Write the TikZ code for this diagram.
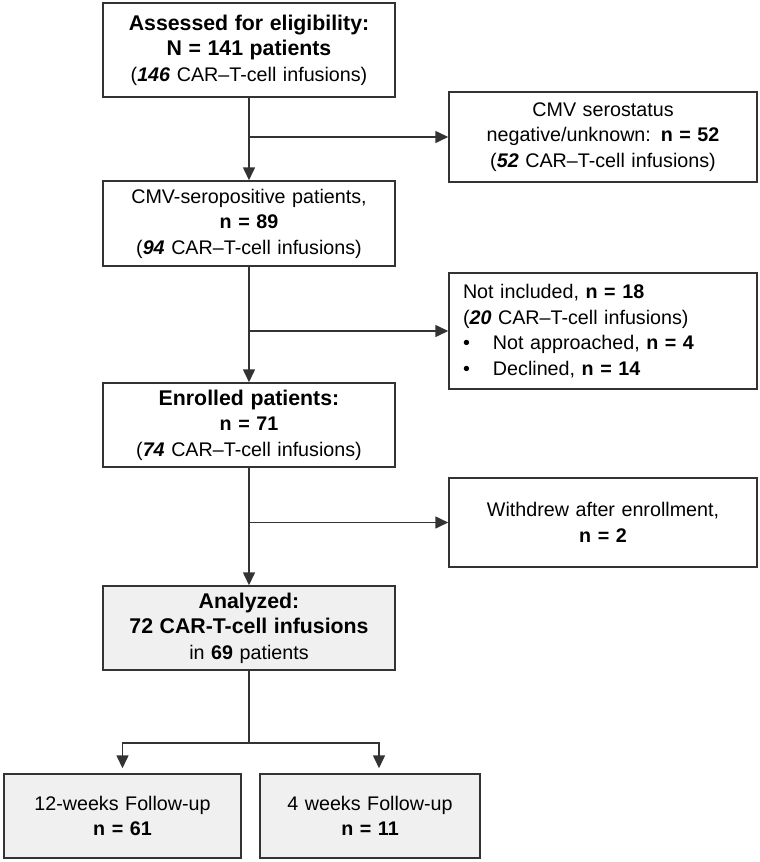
\documentclass[tikz,border=0pt]{standalone}
\usepackage{fontspec}
\setmainfont{Liberation Sans}
\usetikzlibrary{arrows.meta}

\newcommand{\hdr}[1]{{\fontsize{21.3}{25.5}\selectfont\bfseries #1}}

\begin{document}
\begin{tikzpicture}[x=1pt,y=1pt,
  every node/.style={font=\fontsize{19.7}{25.5}\selectfont},
  box/.style={draw=black!80, line width=1.5pt, inner sep=0pt, align=center},
  mainbox/.style={box, text width=292pt},
  sidebox/.style={box, text width=308pt},
  grey/.style={fill=black!6},
  conn/.style={line width=1.6pt, black!80},
  >={Triangle[length=13pt,width=12pt]}]
\useasboundingbox (0,0) rectangle (760,-862);
\node[mainbox, minimum height=94pt] (assess) at (249,-50) {\hdr{Assessed for eligibility:}\\ \hdr{N = 141 patients}\\ (\textbf{\textit{146}} CAR–T-cell infusions)};
\node[sidebox, minimum height=90pt] (seroneg) at (603,-137) {CMV serostatus\\ negative/unknown: \textbf{n = 52}\\ (\textbf{\textit{52}} CAR–T-cell infusions)};
\node[mainbox, minimum height=85pt] (seropos) at (249,-223.5) {CMV-seropositive patients,\\ \textbf{n = 89}\\ (\textbf{\textit{94}} CAR–T-cell infusions)};
\node[box, text width=280pt, inner xsep=14pt, align=left, minimum height=116pt] (notincl) at (603,-331) {Not included, \textbf{n = 18}\\ (\textbf{\textit{20}} CAR–T-cell infusions)\\ \makebox[30pt][l]{\textbullet}Not approached, \textbf{n = 4}\\ \makebox[30pt][l]{\textbullet}Declined, \textbf{n = 14}};
\node[mainbox, minimum height=84pt] (enrolled) at (249,-425) {\hdr{Enrolled patients:}\\ \textbf{n = 71}\\ (\textbf{\textit{74}} CAR–T-cell infusions)};
\node[sidebox, minimum height=89pt] (withdrew) at (603,-522.5) {Withdrew after enrollment,\\ \textbf{n = 2}};
\node[mainbox, grey, minimum height=84pt] (analyzed) at (249,-628) {\hdr{Analyzed:}\\ \hdr{72 CAR-T-cell infusions}\\ in \textbf{69} patients};
\node[box, grey, text width=237pt, minimum height=84pt] (fu12) at (122.5,-816) {12-weeks Follow-up\\ \textbf{n = 61}};
\node[box, grey, text width=220pt, minimum height=84pt] (fu4) at (370,-816) {4 weeks Follow-up\\ \textbf{n = 11}};
% main flow
\draw[conn, ->] (assess) -- (seropos);
\draw[conn, ->] (seropos) -- (enrolled);
\draw[conn, ->] (enrolled) -- (analyzed);
% exclusions
\draw[conn, ->] (assess.south |- seroneg.west) -- (seroneg.west);
\draw[conn, ->] (seropos.south |- notincl.west) -- (notincl.west);
\draw[conn, ->] (enrolled.south |- withdrew.west) -- (withdrew.west);
% follow-up split
\draw[conn] (analyzed.south) -- ++(0,-72) coordinate (split);
\draw[conn, ->, shorten >=5pt] (split) -| (fu12.north);
\draw[conn, ->, shorten >=5pt] (split) -| ([xshift=9pt]fu4.north);
\end{tikzpicture}
\end{document}
